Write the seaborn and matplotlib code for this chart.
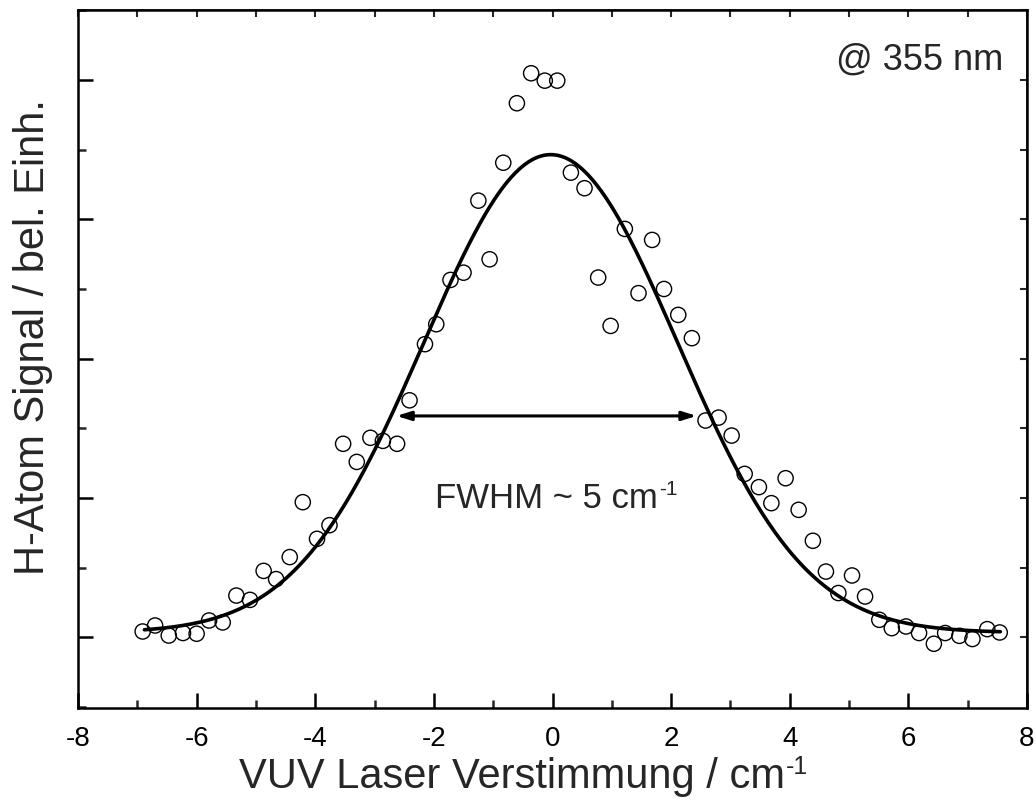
import numpy as np
import pandas as pd
import matplotlib
matplotlib.use("Agg")
import matplotlib.pyplot as plt
import seaborn as sns
from matplotlib.ticker import MultipleLocator

# ---- data ----
detuning = [-6.91, -6.70, -6.47, -6.23, -6.00, -5.79, -5.56, -5.33, -5.10, -4.87,
            -4.66, -4.43, -4.21, -3.97, -3.76, -3.53, -3.30, -3.07, -2.86, -2.62,
            -2.41, -2.15, -1.96, -1.72, -1.50, -1.25, -1.06, -0.83, -0.60, -0.36,
            -0.13, 0.08, 0.31, 0.54, 0.77, 0.98, 1.22, 1.45, 1.68, 1.88,
            2.12, 2.35, 2.58, 2.80, 3.02, 3.24, 3.48, 3.69, 3.93, 4.15,
            4.39, 4.61, 4.82, 5.05, 5.27, 5.51, 5.72, 5.96, 6.18, 6.43,
            6.62, 6.86, 7.08, 7.33, 7.54]
signal = [0.043, 0.086, 0.014, 0.032, 0.027, 0.122, 0.108, 0.301, 0.270, 0.478,
          0.419, 0.577, 0.971, 0.708, 0.806, 1.390, 1.260, 1.433, 1.411, 1.390,
          1.702, 2.105, 2.248, 2.566, 2.618, 3.135, 2.714, 3.407, 3.834, 4.049,
          3.996, 3.996, 3.336, 3.224, 2.583, 2.236, 2.932, 2.471, 2.853, 2.501,
          2.315, 2.148, 1.557, 1.578, 1.449, 1.174, 1.079, 0.964, 1.143, 0.916,
          0.694, 0.473, 0.319, 0.445, 0.294, 0.127, 0.067, 0.079, 0.032, -0.045,
          0.032, 0.012, -0.011, 0.060, 0.036]

# Gaussian fit parameters (fit curve shown in the reference)
fit_center = -0.03
fit_sigma = 2.14
fit_amp = 3.43
fit_offset = 0.035
fit_range = (-6.88, 7.55)

fwhm_arrow = (-2.63, 2.43, 1.59)
xticks = [-8, -6, -4, -2, 0, 2, 4, 6, 8]

sns.set_theme(style="ticks")
plt.rcParams["font.family"] = ["Liberation Sans", "DejaVu Sans"]
plt.rcParams["axes.unicode_minus"] = False

fig = plt.figure(figsize=(10.36, 8.01), dpi=100)
ax = fig.add_axes([78/1036, 1-708/801, (1027-78)/1036, (708-10)/801])

xf = np.linspace(fit_range[0], fit_range[1], 400)
yf = fit_offset + fit_amp*np.exp(-(xf-fit_center)**2/(2*fit_sigma**2))
fit_df = pd.DataFrame({"x": xf, "y": yf})
df = pd.DataFrame({"x": detuning, "y": signal})

sns.lineplot(data=fit_df, x="x", y="y", ax=ax, color="black", lw=2.6, sort=False, zorder=2)
sns.scatterplot(data=df, x="x", y="y", ax=ax, marker="o", s=120,
                facecolor="none", edgecolor="black", linewidth=1.0, zorder=3)

ax.set_xlim(-8, 8)
ax.set_ylim(-0.506, 4.503)
ax.set_xticks(xticks)
ax.set_xticklabels([str(t) for t in xticks])
ax.xaxis.set_minor_locator(MultipleLocator(1))
ax.yaxis.set_major_locator(MultipleLocator(1))
ax.yaxis.set_minor_locator(MultipleLocator(0.5))
ax.set_yticklabels([])
ax.tick_params(which="major", direction="in", length=10.5, width=1.8, labelsize=20, pad=13, colors="black")
ax.tick_params(which="minor", direction="in", length=5.5, width=1.8)
ax.tick_params(axis="y", which="both", labelleft=False)
for s in ax.spines.values():
    s.set_linewidth(1.8)
    s.set_color("black")

top = ax.secondary_xaxis("top")
top.set_xticks(np.arange(-8, 9, 1))
top.tick_params(direction="in", length=5, width=1.5, labeltop=False)
right = ax.secondary_yaxis("right")
right.set_yticks(np.arange(0, 4.6, 0.5))
right.tick_params(direction="in", length=5, width=1.5, labelright=False)

ax.set_xlabel("VUV Laser Verstimmung / cm", fontsize=30)
ax.xaxis.set_label_coords(0.457, -0.070)
ax.set_ylabel("H-Atom Signal / bel. Einh.", fontsize=30)
ax.yaxis.set_label_coords(-0.026, 0.531)
ax.annotate("-1", xy=(1, 1), xycoords=ax.xaxis.label, xytext=(1, 1),
            textcoords="offset points", fontsize=18, ha="left", va="top")

ax.annotate("", xy=(fwhm_arrow[0], fwhm_arrow[2]), xytext=(fwhm_arrow[1], fwhm_arrow[2]),
            arrowprops=dict(arrowstyle="<|-|>,head_length=0.7,head_width=0.22",
                            color="black", lw=2.2, shrinkA=0, shrinkB=0))
t = ax.text(-0.1, 1.0, "FWHM ~ 5 cm", fontsize=25, ha="center", va="center")
ax.annotate("-1", xy=(1, 1), xycoords=t, xytext=(1, 1),
            textcoords="offset points", fontsize=15, ha="left", va="top")
ax.text(7.6, 4.144, "@ 355 nm", fontsize=26, ha="right", va="center")

fig.savefig("out.png", dpi=100)
